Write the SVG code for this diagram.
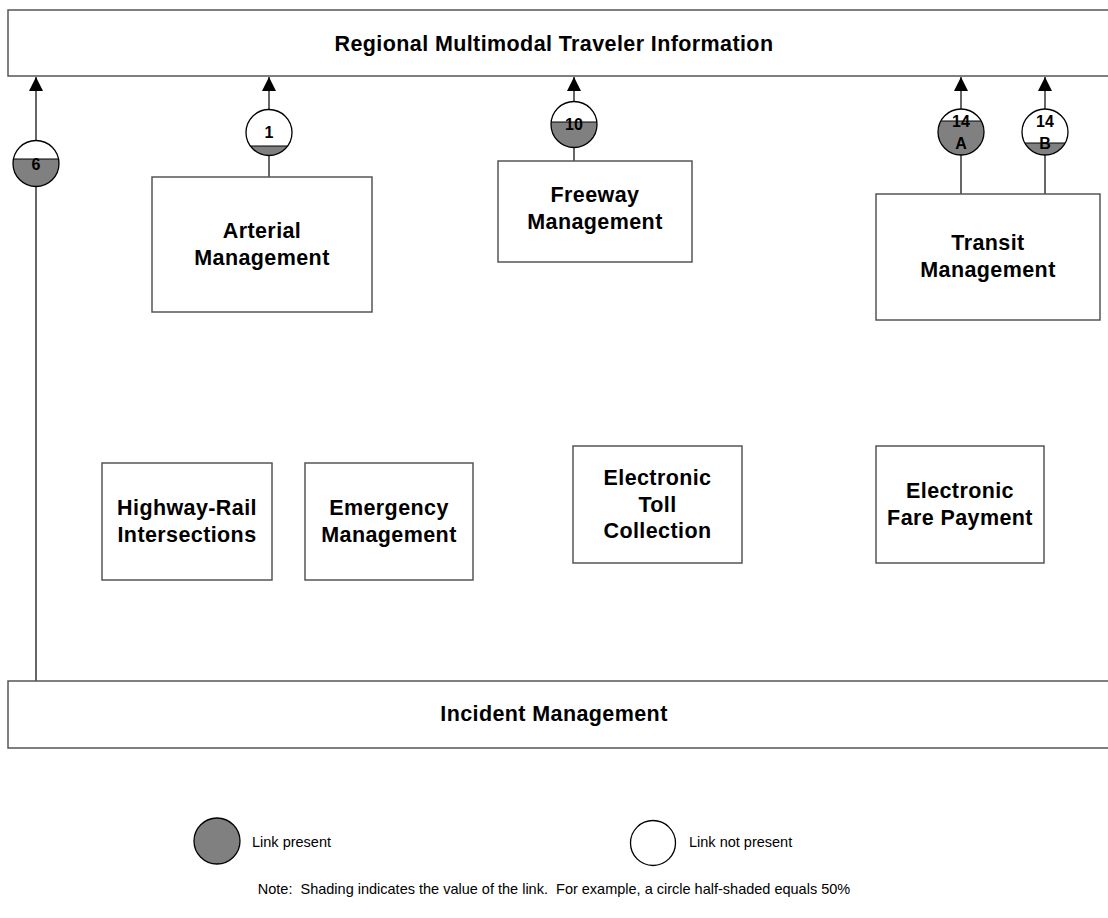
<svg xmlns="http://www.w3.org/2000/svg" width="1108" height="918" viewBox="0 0 1108 918">
  <style>
    .box { fill: #ffffff; stroke: #555555; stroke-width: 1.5; }
    .lbl { font-family: "Liberation Sans", Arial, sans-serif; font-weight: bold; font-size: 21.5px; letter-spacing: 0.4px; fill: #000000; text-anchor: middle; }
    .num { font-family: "Liberation Sans", Arial, sans-serif; font-weight: bold; font-size: 16px; fill: #000000; text-anchor: middle; }
    .small { font-family: "Liberation Sans", Arial, sans-serif; font-size: 14.5px; fill: #000000; white-space: pre; }
    .wire { stroke: #000000; stroke-width: 1.2; fill: none; }
    .ring { fill: none; stroke: #000000; stroke-width: 1.3; }
    .shade { fill: #808080; }
    .cut { stroke: #000000; stroke-width: 1.2; }
  </style>
  <defs>
    <marker id="arrow" viewBox="0 0 14 14" refX="14" refY="7" markerWidth="14" markerHeight="14" markerUnits="userSpaceOnUse" orient="auto">
      <path d="M0,0 L14,7 L0,14 Z" fill="#000000"/>
    </marker>
    <clipPath id="c6"><circle cx="36" cy="163.5" r="23"/></clipPath>
    <clipPath id="c1"><circle cx="269" cy="132.5" r="23"/></clipPath>
    <clipPath id="c10"><circle cx="574" cy="124.5" r="23"/></clipPath>
    <clipPath id="c14a"><circle cx="961" cy="132" r="23"/></clipPath>
    <clipPath id="c14b"><circle cx="1045" cy="132" r="23"/></clipPath>
  </defs>

  <!-- connectors -->
  <g id="connectors">
    <line class="wire" x1="36" y1="681" x2="36" y2="77" marker-end="url(#arrow)"/>
    <line class="wire" x1="269" y1="177" x2="269" y2="77" marker-end="url(#arrow)"/>
    <line class="wire" x1="574" y1="161" x2="574" y2="77" marker-end="url(#arrow)"/>
    <line class="wire" x1="961" y1="194" x2="961" y2="77" marker-end="url(#arrow)"/>
    <line class="wire" x1="1045" y1="194" x2="1045" y2="77" marker-end="url(#arrow)"/>
  </g>

  <!-- link value circles -->
  <g id="link-6">
    <circle cx="36" cy="163.5" r="23" fill="#ffffff"/>
    <rect class="shade" x="10" y="159" width="52" height="30" clip-path="url(#c6)"/>
    <line class="cut" x1="10" y1="159" x2="62" y2="159" clip-path="url(#c6)"/>
    <circle class="ring" cx="36" cy="163.5" r="23"/>
    <text class="num" x="36" y="170">6</text>
  </g>
  <g id="link-1">
    <circle cx="269" cy="132.5" r="23" fill="#ffffff"/>
    <rect class="shade" x="243" y="146" width="52" height="14" clip-path="url(#c1)"/>
    <line class="cut" x1="243" y1="146" x2="295" y2="146" clip-path="url(#c1)"/>
    <circle class="ring" cx="269" cy="132.5" r="23"/>
    <text class="num" x="269" y="138">1</text>
  </g>
  <g id="link-10">
    <circle cx="574" cy="124.5" r="23" fill="#ffffff"/>
    <rect class="shade" x="548" y="122" width="52" height="30" clip-path="url(#c10)"/>
    <line class="cut" x1="548" y1="122" x2="600" y2="122" clip-path="url(#c10)"/>
    <circle class="ring" cx="574" cy="124.5" r="23"/>
    <text class="num" x="574" y="130">10</text>
  </g>
  <g id="link-14a">
    <circle cx="961" cy="132" r="23" fill="#ffffff"/>
    <rect class="shade" x="935" y="121" width="52" height="40" clip-path="url(#c14a)"/>
    <line class="cut" x1="935" y1="121" x2="987" y2="121" clip-path="url(#c14a)"/>
    <circle class="ring" cx="961" cy="132" r="23"/>
    <text class="num" x="961" y="127">14</text>
    <text class="num" x="961" y="149">A</text>
  </g>
  <g id="link-14b">
    <circle cx="1045" cy="132" r="23" fill="#ffffff"/>
    <rect class="shade" x="1019" y="143" width="52" height="20" clip-path="url(#c14b)"/>
    <line class="cut" x1="1019" y1="143" x2="1071" y2="143" clip-path="url(#c14b)"/>
    <circle class="ring" cx="1045" cy="132" r="23"/>
    <text class="num" x="1045" y="127">14</text>
    <text class="num" x="1045" y="149">B</text>
  </g>

  <!-- nodes -->
  <g id="node-traveler-info">
    <rect class="box" x="8" y="10" width="1110" height="66"/>
    <text class="lbl" x="554" y="51">Regional Multimodal Traveler Information</text>
  </g>
  <g id="node-arterial">
    <rect class="box" x="152" y="177" width="220" height="135"/>
    <text class="lbl" x="262" y="238">Arterial</text>
    <text class="lbl" x="262" y="265">Management</text>
  </g>
  <g id="node-freeway">
    <rect class="box" x="498" y="161" width="194" height="101"/>
    <text class="lbl" x="595" y="202">Freeway</text>
    <text class="lbl" x="595" y="229">Management</text>
  </g>
  <g id="node-transit">
    <rect class="box" x="876" y="194" width="224" height="126"/>
    <text class="lbl" x="988" y="250">Transit</text>
    <text class="lbl" x="988" y="277">Management</text>
  </g>
  <g id="node-highway-rail">
    <rect class="box" x="102" y="463" width="170" height="117"/>
    <text class="lbl" x="187" y="515">Highway-Rail</text>
    <text class="lbl" x="187" y="542">Intersections</text>
  </g>
  <g id="node-emergency">
    <rect class="box" x="305" y="463" width="168" height="117"/>
    <text class="lbl" x="389" y="515">Emergency</text>
    <text class="lbl" x="389" y="542">Management</text>
  </g>
  <g id="node-toll">
    <rect class="box" x="573" y="446" width="169" height="117"/>
    <text class="lbl" x="657.5" y="485">Electronic</text>
    <text class="lbl" x="657.5" y="512">Toll</text>
    <text class="lbl" x="657.5" y="538">Collection</text>
  </g>
  <g id="node-fare">
    <rect class="box" x="876" y="446" width="168" height="117"/>
    <text class="lbl" x="960" y="498">Electronic</text>
    <text class="lbl" x="960" y="525">Fare Payment</text>
  </g>
  <g id="node-incident">
    <rect class="box" x="8" y="681" width="1110" height="67"/>
    <text class="lbl" x="554" y="721">Incident Management</text>
  </g>

  <!-- legend -->
  <g id="legend">
    <circle cx="217" cy="841" r="23" fill="#808080" stroke="#000000" stroke-width="1.3"/>
    <text class="small" x="252" y="847">Link present</text>
    <circle cx="653" cy="843" r="22.5" fill="#ffffff" stroke="#000000" stroke-width="1.3"/>
    <text class="small" x="689" y="847">Link not present</text>
    <text class="small" x="554" y="894" text-anchor="middle" xml:space="preserve">Note:  Shading indicates the value of the link.  For example, a circle half-shaded equals 50%</text>
  </g>
</svg>
